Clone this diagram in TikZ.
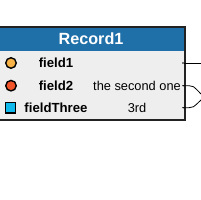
\documentclass[tikz,border=0pt]{standalone}
\usepackage{fontspec}
\setmainfont{Liberation Sans}
\begin{document}
\begin{tikzpicture}[x=1pt,y=1pt,
  hdr/.style={fill=hdrblue,draw=none},
  fname/.style={font=\fontsize{13.2}{15}\selectfont\bfseries,inner sep=0pt,anchor=center},
  fval/.style={font=\fontsize{12.8}{15}\selectfont,inner sep=0pt,anchor=center},
  conn/.style={draw=black,line width=0.8pt},
  port/.style={circle,fill=black,inner sep=0pt,minimum size=1.6pt},
  icon/.style={draw=black,line width=1.4pt,inner sep=0pt,minimum size=10.5pt}
]
\definecolor{hdrblue}{HTML}{1F6FA8}
\definecolor{bodygrey}{HTML}{EEEEEE}
\definecolor{borderc}{HTML}{222222}
\definecolor{cOrange}{HTML}{F7B348}
\definecolor{cRed}{HTML}{F2542A}
\definecolor{cCyan}{HTML}{10B8EC}
\useasboundingbox (0,0) rectangle (200,200);
% body
\path[fill=bodygrey] (-3,80) rectangle (185,173);
\path[hdr] (-3,149) rectangle (185,173);
\draw[borderc,line width=1.6pt] (-3,173) -- (185,173) -- (185,80) -- (-3,80);
\node[font=\fontsize{16.2}{18}\selectfont\bfseries,text=white,inner sep=0pt] (title) at (91,161) {Record1};
% icons
\node[icon,circle,fill=cOrange] (i1) at (11,137) {};
\node[icon,circle,fill=cRed] (i2) at (11,114.3) {};
\node[icon,rectangle,fill=cCyan] (i3) at (10.5,92.3) {};
% names
\node[fname] (n1) at (56,137) {field1};
\node[fname] (n2) at (56,114.3) {field2};
\node[fname] (n3) at (56,92.3) {fieldThree};
% values
\node[fval] (v2) at (137,114.3) {the second one};
\node[fval] (v3) at (137,92.3) {3rd};
% ports
\node[port] (p1) at (183,137) {};
\node[port] (p2) at (183,114.3) {};
\node[port] (p3) at (183,92.3) {};
\coordinate (e1) at (201,137);
\coordinate (e2) at (201,106);
\coordinate (e3) at (201,100);
\draw[conn] (p1) -- (e1);
\draw[conn] (p2.center) -- (189,114.3) .. controls (193,114.3) .. (e2);
\draw[conn] (p3.center) -- (189,92.3) .. controls (193,92.3) .. (e3);
\end{tikzpicture}
\end{document}
